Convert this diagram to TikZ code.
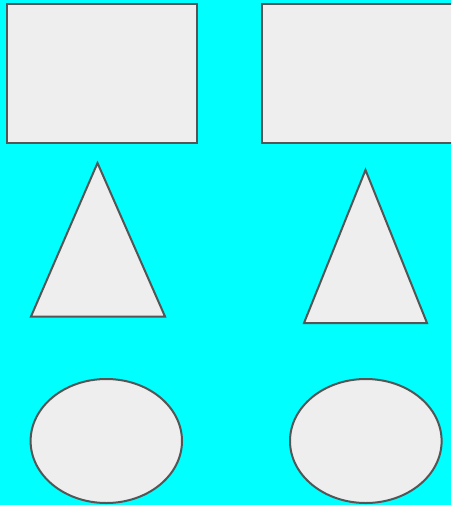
\documentclass[tikz,border=0pt]{standalone}
\definecolor{bgcyan}{HTML}{00FFFF}
\definecolor{shapefill}{HTML}{EEEEEE}
\definecolor{shapeline}{HTML}{555555}
\begin{document}
\begin{tikzpicture}[x=1pt,y=-1pt,
  shapestyle/.style={draw=shapeline,fill=shapefill,line width=2pt,line join=miter}]
\clip (0,0) rectangle (451,505);
\fill[bgcyan] (0,0) rectangle (451,505);
% rectangles
\draw[shapestyle] (6.5,4.5) rectangle (197,143.5);
\draw[shapestyle] (262,4.5) rectangle (470,143.5);
% triangles
\draw[shapestyle] (97.5,163) -- (165,316.5) -- (31,316.5) -- cycle;
\draw[shapestyle] (365.5,170) -- (427,323) -- (304,323) -- cycle;
% ellipses
\draw[shapestyle] (106.3,441) ellipse [x radius=75.7, y radius=62];
\draw[shapestyle] (365.8,441) ellipse [x radius=75.8, y radius=62];
\end{tikzpicture}
\end{document}
